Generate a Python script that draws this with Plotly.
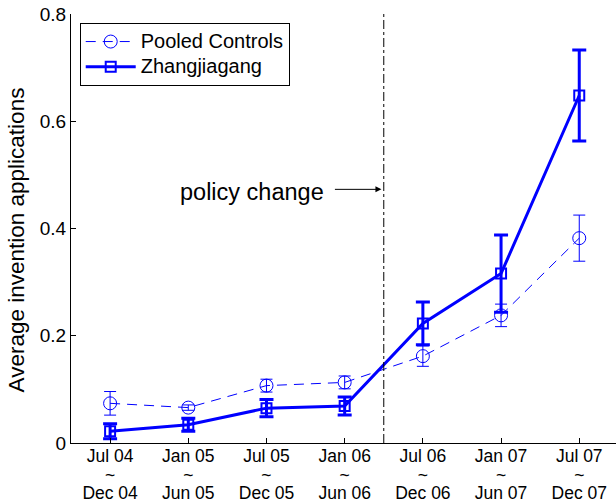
import plotly.graph_objects as go

period_start = ["Jul 04", "Jan 05", "Jul 05", "Jan 06", "Jul 06", "Jan 07", "Jul 07"]
period_end = ["Dec 04", "Jun 05", "Dec 05", "Jun 06", "Dec 06", "Jun 07", "Dec 07"]
x_pos = [1, 2, 3, 4, 5, 6, 7]

pooled_mean = [0.074, 0.066, 0.107, 0.113, 0.162, 0.238, 0.382]
pooled_err = [0.022, 0.005, 0.012, 0.012, 0.019, 0.021, 0.043]

zjg_mean = [0.022, 0.034, 0.065, 0.069, 0.223, 0.316, 0.648]
zjg_err = [0.014, 0.012, 0.016, 0.017, 0.040, 0.072, 0.085]

policy_x = 4.5
y_ticks = [0, 0.2, 0.4, 0.6, 0.8]
y_tick_text = ["0", "0.2", "0.4", "0.6", "0.8"]

BLUE = "#0000ff"
FONT = "Liberation Sans, Arial, sans-serif"


def span(s, size):
    return f"<span style='font-size:{size}px'>{s}</span>"


tick_text = [f"{span(a, 17.5)}<br>{span('~', 17.5)}<br>{span(b, 17.5)}"
             for a, b in zip(period_start, period_end)]

fig = go.Figure()

fig.add_trace(go.Scatter(
    x=x_pos, y=pooled_mean, name=span("Pooled Controls", 20), mode="lines+markers",
    line=dict(color=BLUE, width=1, dash="10px,7px"),
    marker=dict(symbol="circle-open", size=13, color=BLUE, line=dict(width=1, color=BLUE)),
    error_y=dict(type="data", array=pooled_err, color=BLUE, thickness=1, width=6),
))

fig.add_trace(go.Scatter(
    x=x_pos, y=zjg_mean, name=span("Zhangjiagang", 20), mode="lines+markers",
    line=dict(color=BLUE, width=3),
    marker=dict(symbol="square-open", size=10, color=BLUE, line=dict(width=2, color=BLUE)),
    error_y=dict(type="data", array=zjg_err, color=BLUE, thickness=3, width=7),
))

# vertical dash-dot marker of the policy change
fig.add_shape(type="line", x0=policy_x, x1=policy_x, y0=0, y1=0.8,
              xref="x", yref="y", line=dict(color="black", width=1, dash="dashdot"))

fig.add_annotation(
    x=policy_x - 0.03, y=0.473, ax=-48, ay=0, xref="x", yref="y",
    text="", showarrow=True, arrowhead=2, arrowsize=1.2, arrowwidth=1, arrowcolor="black",
)
fig.add_annotation(
    x=2.82, y=0.469, xref="x", yref="y", text="policy change", showarrow=False,
    font=dict(size=23.5, color="black", family=FONT), xanchor="center", yanchor="middle",
)

# y-axis label
fig.add_annotation(
    x=-0.101, y=0.4745, xref="paper", yref="paper", text="Average invention applications",
    textangle=-90, showarrow=False, xanchor="center", yanchor="middle",
    font=dict(size=22.5, color="black", family=FONT),
)

fig.update_layout(
    width=616, height=503,
    margin=dict(l=71, r=0, t=14, b=57),
    paper_bgcolor="white", plot_bgcolor="white",
    font=dict(family=FONT, color="black", size=15),
    showlegend=True,
    legend=dict(
        x=0.016, y=0.979, xanchor="left", yanchor="top",
        bordercolor="black", borderwidth=1, bgcolor="white",
        font=dict(size=17, family=FONT), tracegroupgap=0,
        itemwidth=50,
    ),
)

fig.update_xaxes(
    range=[0.5, 7.47], tickmode="array", tickvals=x_pos, ticktext=tick_text,
    showline=True, linecolor="black", linewidth=1, mirror=False,
    ticks="inside", ticklen=5, tickcolor="black", showgrid=False, zeroline=False,
    tickfont=dict(size=14.6, family=FONT),
)
fig.update_yaxes(
    range=[0, 0.8], tickmode="array", tickvals=y_ticks, ticktext=y_tick_text,
    showline=True, linecolor="black", linewidth=1, mirror=False,
    ticks="inside", ticklen=5, tickcolor="black", showgrid=False, zeroline=False,
    tickfont=dict(size=19, family=FONT),
)

fig.write_html("out.html")
